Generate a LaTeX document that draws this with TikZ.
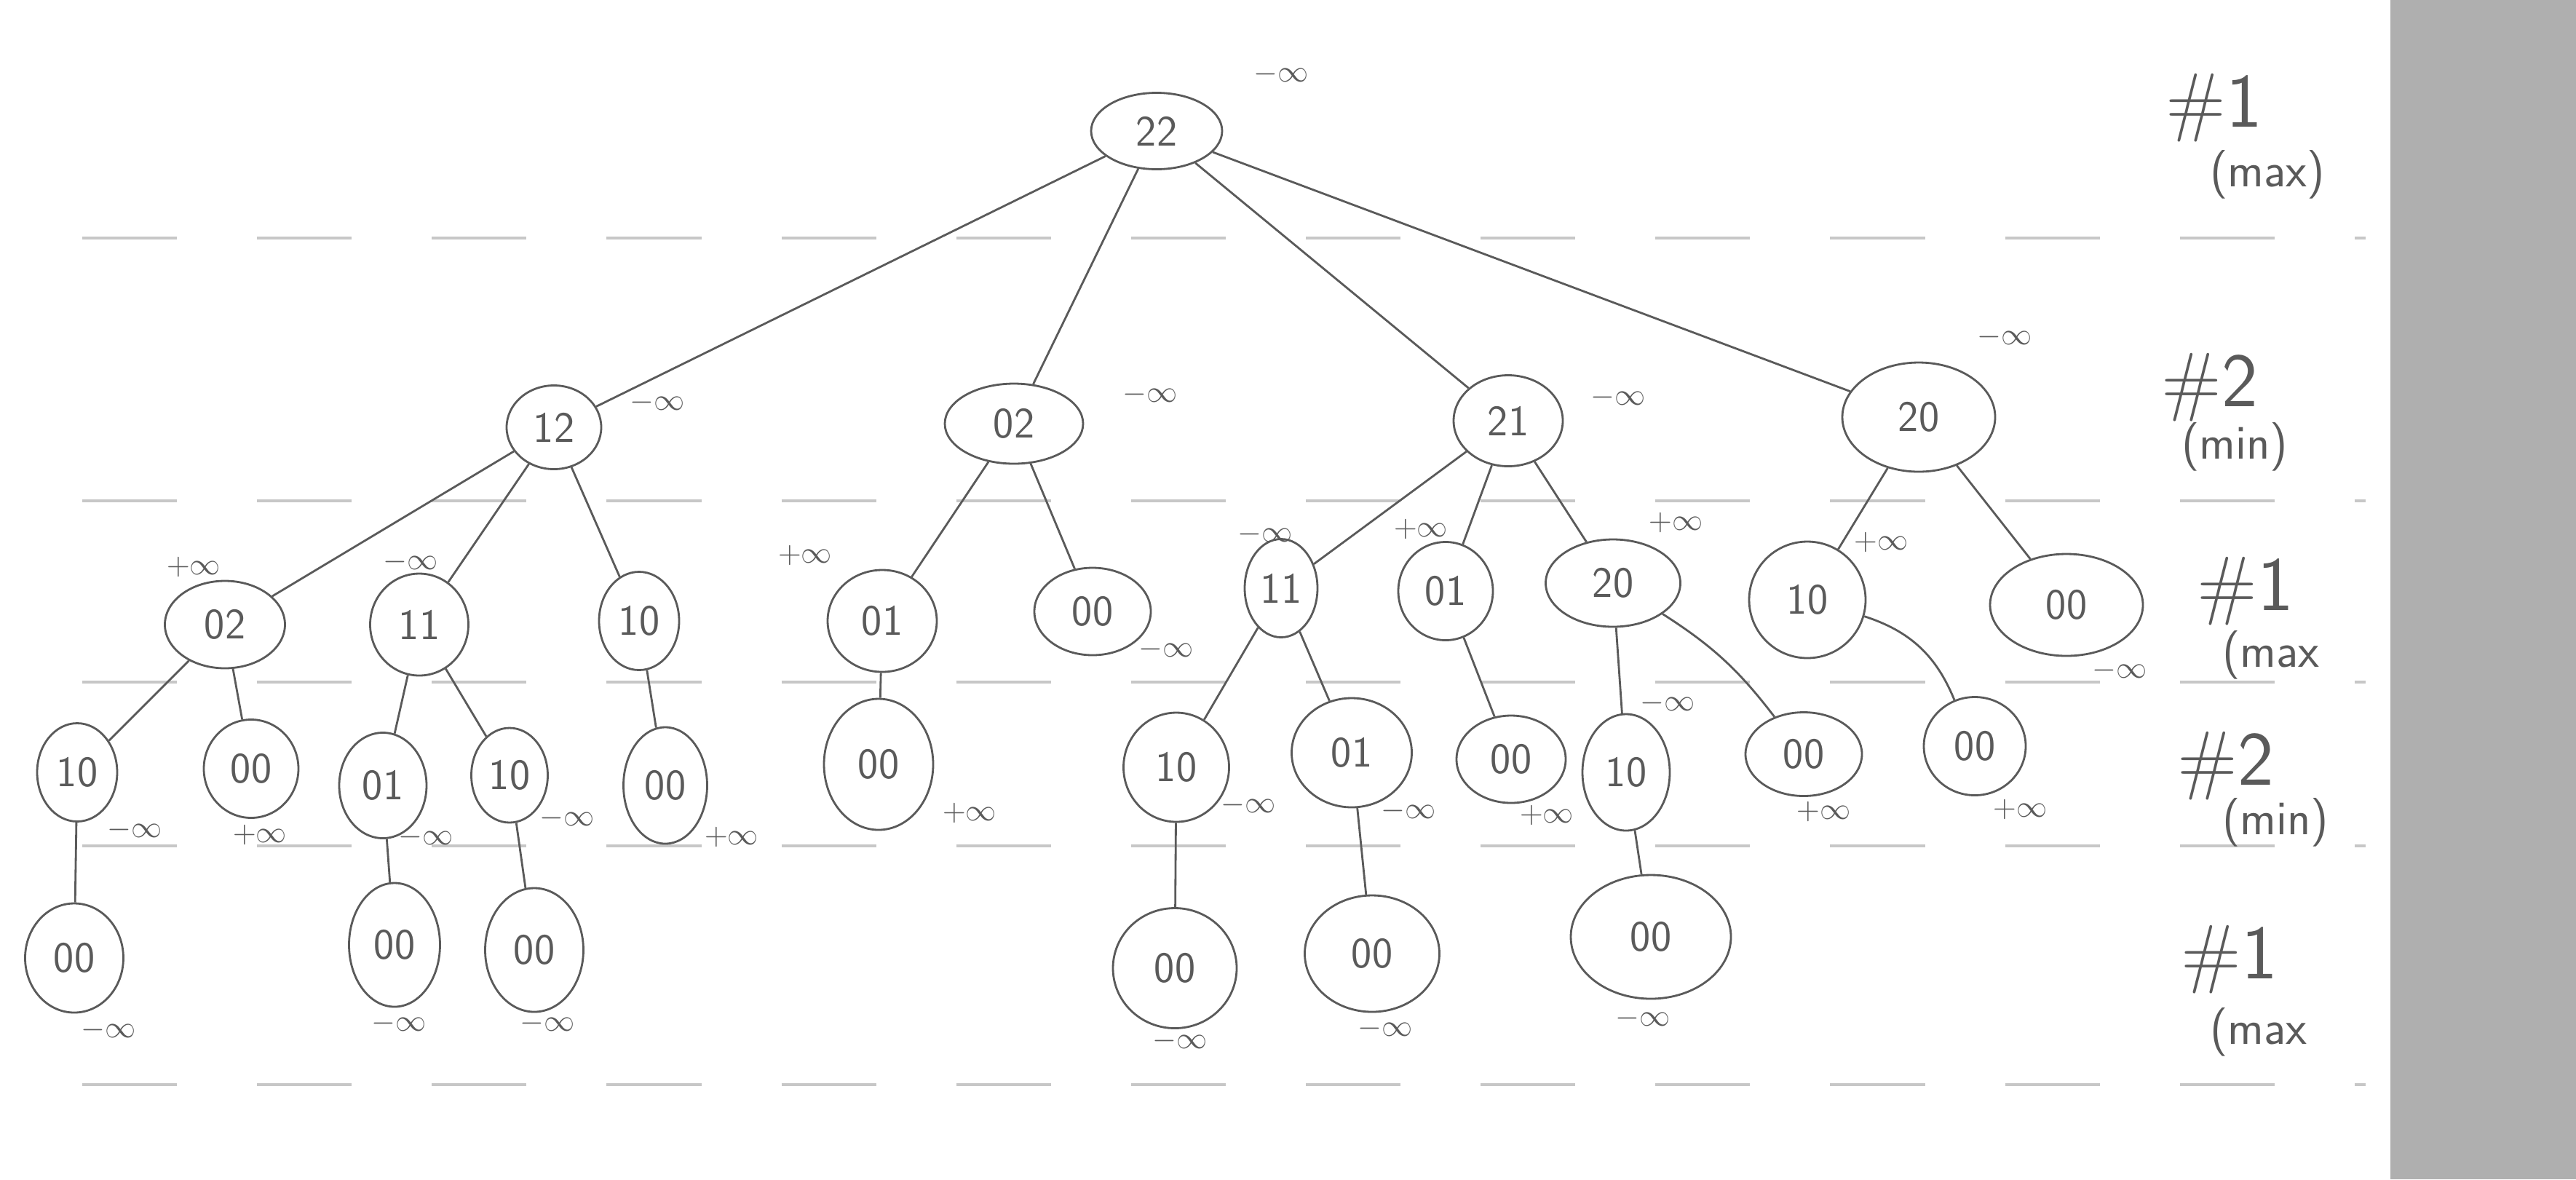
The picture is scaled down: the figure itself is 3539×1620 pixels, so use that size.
\documentclass[tikz,border=0pt]{standalone}
\usepackage{amsmath}
\usepackage{amssymb}
\usepackage{tikz}
\usetikzlibrary{shapes.geometric}

\definecolor{pen}{RGB}{90,90,90}
\definecolor{side}{RGB}{175,175,175}

\tikzset{sz/.style 2 args={minimum width=#1*0.01cm,minimum height=#2*0.01cm}}

\begin{document}
\begin{tikzpicture}[x=0.01cm,y=-0.01cm,thick,
  main node/.style={ellipse,draw=pen,fill=white,inner sep=0pt,text=pen,font=\sffamily\fontsize{17}{20}\selectfont},
  val/.style={text=pen,font=\large},
  level label/.style={text=pen,inner sep=1pt,font=\sffamily\fontsize{30}{32}\selectfont},
  kind label/.style={text=pen,inner sep=1pt,font=\sffamily\fontsize{19}{21}\selectfont},
  guide/.style={draw=black!22,line width=1.2pt,dash pattern=on 1.3cm off 1.1cm}]

  \fill[side] (3284,0) rectangle (3539,1620);
  \useasboundingbox (0,0) rectangle (3539,1620);

  % level separators
  \foreach \y in {327,688,937,1162,1490}
    \draw[guide] (113,\y) -- (3250,\y);

  % ply 1
  \node[main node,sz={180}{105}] (1) at (1589,180) {22};
  % ply 2
  \node[main node,sz={130}{115}] (2) at (761,587) {12};
  \node[main node,sz={190}{110}] (3) at (1393,582) {02};
  \node[main node,sz={150}{125}] (4) at (2072,578) {21};
  \node[main node,sz={210}{150}] (5) at (2636,573) {20};
  % ply 3
  \node[main node,sz={165}{120}] (6) at (309,858) {02};
  \node[main node,sz={135}{140}] (7) at (576,858) {11};
  \node[main node,sz={110}{135}] (8) at (878,853) {10};
  \node[main node,sz={150}{140}] (9) at (1212,853) {01};
  \node[main node,sz={160}{120}] (10) at (1501,840) {00};
  \node[main node,sz={100}{135}] (11) at (1760,808) {11};
  \node[main node,sz={130}{135}] (12) at (1986,812) {01};
  \node[main node,sz={185}{120}] (13) at (2216,801) {20};
  \node[main node,sz={160}{160}] (14) at (2483,824) {10};
  \node[main node,sz={210}{140}] (15) at (2839,831) {00};
  % ply 4
  \node[main node,sz={110}{135}] (16) at (106,1061) {10};
  \node[main node,sz={130}{135}] (17) at (345,1056) {00};
  \node[main node,sz={120}{145}] (18) at (526,1079) {01};
  \node[main node,sz={105}{130}] (19) at (700,1065) {10};
  \node[main node,sz={115}{160}] (20) at (914,1079) {00};
  \node[main node,sz={150}{180}] (21) at (1207,1050) {00};
  \node[main node,sz={145}{150}] (22) at (1616,1054) {10};
  \node[main node,sz={165}{150}] (23) at (1857,1034) {01};
  \node[main node,sz={150}{120}] (24) at (2076,1043) {00};
  \node[main node,sz={120}{160}] (25) at (2234,1061) {10};
  \node[main node,sz={160}{115}] (26) at (2478,1036) {00};
  \node[main node,sz={140}{135}] (27) at (2713,1025) {00};
  % ply 5
  \node[main node,sz={135}{150}] (28) at (102,1316) {00};
  \node[main node,sz={125}{170}] (29) at (542,1298) {00};
  \node[main node,sz={135}{170}] (30) at (734,1305) {00};
  \node[main node,sz={170}{165}] (31) at (1614,1330) {00};
  \node[main node,sz={185}{160}] (32) at (1885,1310) {00};
  \node[main node,sz={220}{170}] (33) at (2268,1287) {00};

  % values
  \node[val] (v1) at (1760,102) {$-\infty$};
  \node[val] (v2) at (903,553) {$-\infty$};
  \node[val] (v3) at (1580,542) {$-\infty$};
  \node[val] (v4) at (2223,546) {$-\infty$};
  \node[val] (v5) at (2754,463) {$-\infty$};
  \node[val] (v6) at (266,779) {$+\infty$};
  \node[val] (v7) at (564,772) {$-\infty$};
  \node[val] (v9) at (1106,763) {$+\infty$};
  \node[val] (v10) at (1602,892) {$-\infty$};
  \node[val] (v11) at (1738,734) {$-\infty$};
  \node[val] (v12) at (1952,727) {$+\infty$};
  \node[val] (v13) at (2302,718) {$+\infty$};
  \node[val] (v14) at (2584,745) {$+\infty$};
  \node[val] (v15) at (2912,921) {$-\infty$};
  \node[val] (v16) at (185,1140) {$-\infty$};
  \node[val] (v17) at (357,1147) {$+\infty$};
  \node[val] (v18) at (585,1150) {$-\infty$};
  \node[val] (v19) at (779,1124) {$-\infty$};
  \node[val] (v20) at (1005,1150) {$+\infty$};
  \node[val] (v21) at (1332,1117) {$+\infty$};
  \node[val] (v22) at (1715,1106) {$-\infty$};
  \node[val] (v23) at (1935,1114) {$-\infty$};
  \node[val] (v24) at (2125,1120) {$+\infty$};
  \node[val] (v25) at (2291,966) {$-\infty$};
  \node[val] (v26) at (2505,1115) {$+\infty$};
  \node[val] (v27) at (2775,1112) {$+\infty$};
  \node[val] (v28) at (149,1415) {$-\infty$};
  \node[val] (v29) at (548,1406) {$-\infty$};
  \node[val] (v30) at (752,1406) {$-\infty$};
  \node[val] (v31) at (1621,1430) {$-\infty$};
  \node[val] (v32) at (1903,1413) {$-\infty$};
  \node[val] (v33) at (2257,1399) {$-\infty$};

  % players
  \node[level label] (p1) at (3042,148) {\#1};
  \node[kind label] (k1) at (3115,240) {(max)};
  \node[level label] (p2) at (3036,532) {\#2};
  \node[kind label] (k2) at (3070,614) {(min)};
  \node[level label] (p3) at (3085,812) {\#1};
  \node[kind label] (k3) at (3120,900) {(max};
  \node[level label] (p4) at (3058,1052) {\#2};
  \node[kind label] (k4) at (3126,1130) {(min)};
  \node[level label] (p5) at (3063,1318) {\#1};
  \node[kind label] (k5) at (3103,1418) {(max};

  \path[draw=pen]
    (1) edge (2) edge (3) edge (4) edge (5)
    (2) edge (6) edge (7) edge (8)
    (3) edge (9) edge (10)
    (4) edge (11) edge (12) edge (13)
    (5) edge (14) edge (15)
    (6) edge (16) edge (17)
    (7) edge (18) edge (19)
    (8) edge (20)
    (9) edge (21)
    (11) edge (22) edge (23)
    (12) edge (24)
    (13) edge (25) edge[bend left=10] (26)
    (14) edge[bend left=25] (27)
    (16) edge (28)
    (18) edge (29)
    (19) edge (30)
    (22) edge (31)
    (23) edge (32)
    (25) edge (33);
\end{tikzpicture}
\end{document}
